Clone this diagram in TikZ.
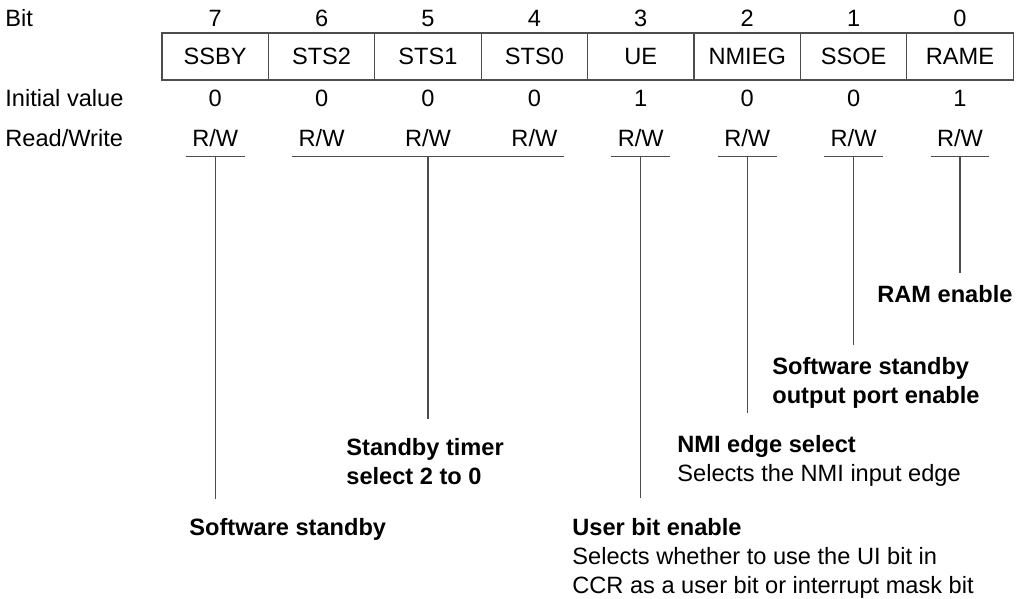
\documentclass[tikz,border=0pt]{standalone}
\usepackage{fontspec}
\setmainfont{Liberation Sans}
\usetikzlibrary{calc}
\tikzstyle{cell} = [rectangle, draw=black!70, line width=0.6pt, minimum width=53.2pt, minimum height=23.5pt, inner sep=0pt]
\tikzstyle{val} = [anchor=base, inner sep=0pt]
\tikzstyle{rw} = [anchor=base, text depth=0pt, inner xsep=3pt, inner ysep=4.5pt]
\tikzstyle{lbl} = [anchor=north west, inner sep=0pt, align=left]
\tikzset{
  conn/.style={draw=black!70, line width=0.6pt}
}

\begin{document}
\begin{tikzpicture}[x=0.5pt, y=-0.5pt, font=\fontsize{11.8}{14.5}\selectfont]
    \useasboundingbox (0,0) rectangle (1019,599);
    % row headings
    \node (hb)[val, anchor=base west] at (5,27) {Bit};
    \node (hi)[val, anchor=base west] at (5,107) {Initial value};
    \node (hr)[val, anchor=base west] at (5,147) {Read/Write};
    % register bits
    \foreach \nm/\iv [count=\i from 0] in {SSBY/0, STS2/0, STS1/0, STS0/0, UE/1, NMIEG/0, SSOE/0, RAME/1} {
      \pgfmathtruncatemacro\k{7-\i}
      \node (b\k)[val] at ({215.2+106.4*\i},27) {\k};
      \node (c\k)[cell] at ({215.2+106.4*\i},56.5) {\nm};
      \node (v\k)[val] at ({215.2+106.4*\i},107) {\iv};
      \node (rw\k)[rw] at ({215.2+106.4*\i},147) {R/W};
    }
    % descriptions
    \node (l7)[lbl] at (189,518) {\textbf{Software standby}};
    \node (l6)[lbl] at (346,438) {\textbf{Standby timer}\\\textbf{select 2 to 0}};
    \node (l3)[lbl] at (572,518) {\textbf{User bit enable}\\Selects whether to use the UI bit in\\CCR as a user bit or interrupt mask bit};
    \node (l2)[lbl] at (677,435) {\textbf{NMI edge select}\\Selects the NMI input edge};
    \node (l1)[lbl] at (772,357) {\textbf{Software standby}\\\textbf{output port enable}};
    \node (l0)[lbl] at (877,285) {\textbf{RAM enable}};
    % brackets under R/W
    \draw[conn] (rw7.south west) -- (rw7.south east);
    \draw[conn] (rw6.south west) -- (rw4.south east);
    \foreach \k in {3,2,1,0} \draw[conn] (rw\k.south west) -- (rw\k.south east);
    % leaders
    \draw[conn] (rw7.south) -- ([yshift=9.5pt]l7.north -| rw7.south);
    \draw[conn] (rw5.south) -- ([yshift=9.5pt]l6.north -| rw5.south);
    \draw[conn] (rw3.south) -- ([yshift=10pt]l3.north -| rw3.south);
    \draw[conn] (rw2.south) -- ([yshift=11pt]l2.north -| rw2.south);
    \draw[conn] (rw1.south) -- ([yshift=6pt]l1.north -| rw1.south);
    \draw[conn] (rw0.south) -- ([yshift=6pt]l0.north -| rw0.south);
\end{tikzpicture}
\end{document}
